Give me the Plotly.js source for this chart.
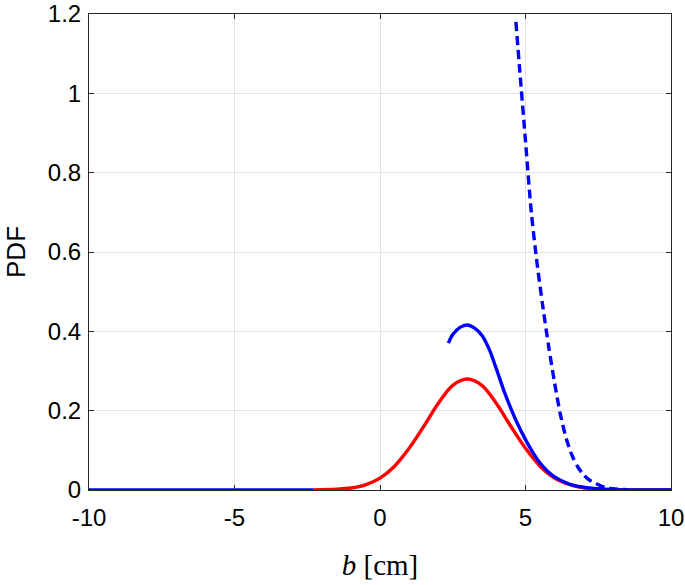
<!DOCTYPE html>
<html>
<head>
<meta charset="utf-8">
<script src="https://cdn.plot.ly/plotly-3.0.1.min.js"></script>
<style>html,body{margin:0;padding:0;background:#fff;}#chart{width:685px;height:585px;}</style>
</head>
<body>
<div id="chart"></div>
<script>
// Red curve
var redX = [-2.3, -1.5, -1, -0.5, 0, 0.5, 1, 1.5, 2, 2.5, 3, 3.5, 4, 4.5, 5, 5.5, 6, 6.5, 7, 7.5, 8, 9, 10];
var redY = [0.0004, 0.002, 0.005, 0.013, 0.030, 0.060, 0.105, 0.160, 0.218, 0.264, 0.280, 0.264, 0.218, 0.160, 0.105, 0.060, 0.030, 0.014, 0.0054, 0.0018, 0.0005, 0.00002, 0];
// Blue solid, left flat part
var blueLeftX = [-10, -8, -6, -4, -2.3];
var blueLeftY = [0, 0, 0, 0, 0];
// Blue solid, right part
var blueX = [2.35, 2.5, 2.75, 3, 3.25, 3.5, 3.75, 4, 4.25, 4.5, 4.75, 5, 5.25, 5.5, 5.75, 6, 6.5, 7, 7.5, 8, 9, 10];
var blueY = [0.370, 0.392, 0.410, 0.416, 0.408, 0.390, 0.355, 0.305, 0.252, 0.205, 0.163, 0.127, 0.095, 0.068, 0.048, 0.033, 0.015, 0.007, 0.003, 0.001, 0.0001, 0];
// Blue dashed
var dashX = [4.67, 4.8, 5.0, 5.2, 5.4, 5.6, 5.8, 6.0, 6.2, 6.4, 6.6, 6.8, 7.0, 7.2, 7.4, 7.6, 7.8, 8.0, 8.5];
var dashY = [1.18, 1.06, 0.88, 0.70, 0.57, 0.46, 0.36, 0.27, 0.19, 0.13, 0.087, 0.058, 0.038, 0.025, 0.017, 0.010, 0.006, 0.003, 0.001];

var xTicks = [-10, -5, 0, 5, 10];
var xTickText = ['-10', '-5', '0', '5', '10'];
var yTicks = [0, 0.2, 0.4, 0.6, 0.8, 1, 1.2];
var yTickText = ['0', '0.2', '0.4', '0.6', '0.8', '1', '1.2'];

var traces = [
  {x: redX, y: redY, mode: 'lines', line: {color: '#ff0000', width: 3.4, shape: 'spline', smoothing: 1}, hoverinfo: 'skip'},
  {x: blueLeftX, y: blueLeftY, mode: 'lines', line: {color: '#0000ff', width: 3.4}, hoverinfo: 'skip'},
  {x: dashX, y: dashY, mode: 'lines', line: {color: '#0000ff', width: 3.4, dash: '9px,5px', shape: 'spline', smoothing: 0.8}, hoverinfo: 'skip'},
  {x: blueX, y: blueY, mode: 'lines', line: {color: '#0000ff', width: 3.4, shape: 'spline', smoothing: 1}, hoverinfo: 'skip'}
];

var axisCommon = {
  showline: true, mirror: 'ticks', linecolor: '#262626', linewidth: 1,
  ticks: 'inside', ticklen: 5, tickcolor: '#262626', tickwidth: 1,
  showgrid: true, gridcolor: '#e3e3e3', gridwidth: 1, zeroline: false,
  tickfont: {family: 'Liberation Sans, Arial, sans-serif', size: 24, color: '#000'}
};

var layout = {
  width: 685, height: 585,
  margin: {l: 89, r: 14, t: 14, b: 95},
  paper_bgcolor: '#fff', plot_bgcolor: '#fff',
  showlegend: false,
  xaxis: Object.assign({}, axisCommon, {
    range: [-10, 10], tickmode: 'array', tickvals: xTicks, ticktext: xTickText,
    ticklabelstandoff: 6,
    title: {text: '<i>b</i> [cm]', font: {family: 'Liberation Serif, DejaVu Serif, serif', size: 29, color: '#000'}, standoff: 24}
  }),
  yaxis: Object.assign({}, axisCommon, {
    range: [0, 1.2], tickmode: 'array', tickvals: yTicks, ticktext: yTickText,
    ticklabelstandoff: 2,
    title: {text: 'PDF', font: {family: 'Liberation Sans, Arial, sans-serif', size: 26, color: '#000'}, standoff: 14}
  })
};

Plotly.newPlot('chart', traces, layout, {displayModeBar: false, staticPlot: true});
</script>
</body>
</html>
